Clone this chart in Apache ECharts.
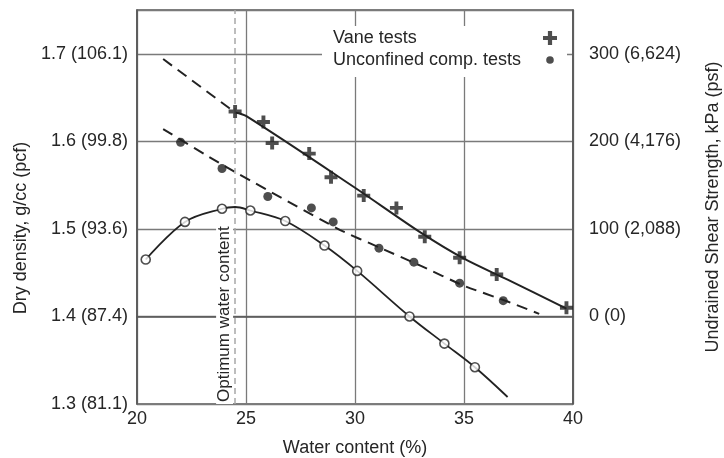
<!DOCTYPE html>
<html><head><meta charset="utf-8">
<script src="https://cdn.jsdelivr.net/npm/echarts@6/dist/echarts.min.js"></script>
<style>html,body{margin:0;padding:0;background:#fff}#c{width:724px;height:458px}</style>
</head><body><div id="c"></div>
<script>
// ---- data ----
const xTickValues = [20, 25, 30, 35, 40];
const leftTickValues = [1.3, 1.4, 1.5, 1.6, 1.7];
const leftTickLabels = ['1.3 (81.1)', '1.4 (87.4)', '1.5 (93.6)', '1.6 (99.8)', '1.7 (106.1)'];
const rightTickValues = [0, 100, 200, 300];
const rightTickLabels = ['0 (0)', '100 (2,088)', '200 (4,176)', '300 (6,624)'];

// Vane tests (kPa)
const vaneWater = [24.5, 25.8, 26.2, 27.9, 28.9, 30.4, 31.9, 33.2, 34.8, 36.5, 39.7];
const vaneKPa   = [234, 222, 198, 186, 159, 138, 124, 91, 67, 48, 10];
// Unconfined compression tests (kPa)
const ucWater = [22.0, 23.9, 26.0, 28.0, 29.0, 31.1, 32.7, 34.8, 36.8];
const ucKPa   = [199, 169, 137, 124, 108, 78, 62, 38, 18];
// Compaction (dry density g/cc)
const compWater   = [20.4, 22.2, 23.9, 25.2, 26.8, 28.6, 30.1, 32.5, 34.1, 35.5];
const compDensity = [1.465, 1.508, 1.523, 1.521, 1.509, 1.481, 1.452, 1.400, 1.369, 1.342];

// fitted curves
const vaneFitDashW = [21.2, 24.5];
const vaneFitDashS = [294, 233];
const vaneFitW = [24.5, 25, 30, 33, 35, 37, 39.7];
const vaneFitS = [233, 229, 147, 96, 66, 42, 9];
const ucFitW = [21.2, 24, 29.3, 31.1, 33, 35, 37, 38.45];
const ucFitS = [214, 172, 99, 79, 58, 35, 17, 3];
const compFitW = [20.4, 22.2, 23.9, 24.5, 25.2, 26.8, 28.6, 30.1, 32.5, 34.1, 35.5, 37.0];
const compFitD = [1.465, 1.508, 1.523, 1.525, 1.521, 1.509, 1.481, 1.452, 1.400, 1.369, 1.342, 1.308];

const optimumWater = 24.5;
const optimumLabel = 'Optimum water content';

const xName = 'Water content (%)';
const leftName = 'Dry density, g/cc (pcf)';
const rightName = 'Undrained Shear Strength, kPa (psf)';
const seriesNames = ['Vane tests', 'Unconfined comp. tests'];

// ---- build ----
const zip = (a, b) => a.map((v, i) => [v, b[i]]);
const FONT = "'Liberation Sans', Arial, sans-serif";
const TXT = '#262626';
const INK = '#222';
const crossPath = 'path://M4.2,0H7.8V4.2H12V7.8H7.8V12H4.2V7.8H0V4.2H4.2Z';
const dotIcon = 'path://M0,0M14,14M7,3.2A3.8,3.8,0,1,1,7,10.8A3.8,3.8,0,1,1,7,3.2Z';

function lookup(values, labels) {
  return function (v) {
    for (let i = 0; i < values.length; i++) if (Math.abs(values[i] - v) < 1e-6) return labels[i];
    return '';
  };
}

const chart = echarts.init(document.getElementById('c'), null, {renderer: 'canvas'});
chart.setOption({
  animation: false,
  backgroundColor: '#fff',
  textStyle: {fontFamily: FONT},
  grid: {left: 137, right: 151, top: 10, bottom: 54, show: true, borderColor: '#555', borderWidth: 1.5,
    containLabel: false, outerBoundsMode: 'none'},
  legend: {
    orient: 'vertical', left: 322, top: 26, align: 'right',
    backgroundColor: '#fff', padding: [3, 10, 8, 11], itemGap: 4,
    itemWidth: 14, itemHeight: 14,
    formatter: '{a|{name}}',
    textStyle: {rich: {a: {width: 205, align: 'left', fontSize: 18, lineHeight: 22, color: TXT, fontFamily: FONT}}},
    data: [
      {name: seriesNames[0], icon: crossPath, itemStyle: {color: INK}},
      {name: seriesNames[1], icon: dotIcon, itemStyle: {color: INK}}
    ]
  },
  xAxis: {
    type: 'value', min: 20, max: 40, interval: 5,
    name: xName, nameLocation: 'middle', nameGap: 35,
    nameTextStyle: {fontSize: 18, color: TXT, fontFamily: FONT},
    axisLine: {show: true, lineStyle: {color: '#555', width: 1.5}},
    axisTick: {show: false},
    axisLabel: {fontSize: 18, color: TXT, margin: 6, fontFamily: FONT, formatter: lookup(xTickValues, xTickValues.map(String))},
    splitLine: {show: true, lineStyle: {color: '#7a7a7a', width: 1.3}}
  },
  yAxis: [{
    type: 'value', min: 1.3, max: 1.75, interval: 0.1, position: 'left',
    name: leftName, nameLocation: 'middle', nameRotate: 90, nameGap: 94,
    nameTextStyle: {fontSize: 18, color: TXT, fontFamily: FONT, padding: [0, 42, 0, 0]},
    axisLine: {show: true, lineStyle: {color: '#555', width: 1.5}},
    axisTick: {show: false},
    axisLabel: {fontSize: 18, color: TXT, margin: 9, fontFamily: FONT, formatter: lookup(leftTickValues, leftTickLabels)},
    splitLine: {show: true, lineStyle: {color: '#7a7a7a', width: 1.3}}
  }, {
    type: 'value', min: -100, max: 350, interval: 100, position: 'right',
    name: rightName, nameLocation: 'middle', nameRotate: 90, nameGap: 131,
    nameTextStyle: {fontSize: 18, color: TXT, fontFamily: FONT},
    axisLine: {show: true, lineStyle: {color: '#555', width: 1.5}},
    axisTick: {show: false},
    axisLabel: {fontSize: 18, color: TXT, margin: 16, fontFamily: FONT, formatter: lookup(rightTickValues, rightTickLabels)},
    splitLine: {show: false}
  }],
  series: [
    {
      name: 'vaneDash', type: 'line', yAxisIndex: 1, data: zip(vaneFitDashW, vaneFitDashS),
      symbol: 'none', lineStyle: {color: INK, width: 2, type: [11, 7]}, silent: true, z: 3
    },
    {
      name: 'vaneFit', type: 'line', yAxisIndex: 1, data: zip(vaneFitW, vaneFitS), smooth: 0.3,
      symbol: 'none', lineStyle: {color: INK, width: 2}, silent: true, z: 3
    },
    {
      name: 'ucFit', type: 'line', yAxisIndex: 1, data: zip(ucFitW, ucFitS), smooth: 0.2,
      symbol: 'none', lineStyle: {color: INK, width: 2, type: [11, 7]}, silent: true, z: 3
    },
    {
      name: 'compFit', type: 'line', yAxisIndex: 0, data: zip(compFitW, compFitD), smooth: 0.35,
      symbol: 'none', lineStyle: {color: INK, width: 1.8}, silent: true, z: 3,
      markLine: {
        silent: true, symbol: 'none',
        lineStyle: {color: '#a8a8a8', width: 1.5, type: [6, 4]},
        label: {show: true, position: 'insideStartTop', formatter: optimumLabel, distance: [0, 2],
          fontSize: 17, color: TXT, fontFamily: FONT, backgroundColor: '#fff', padding: [0, 2, 0, 2]},
        data: [{xAxis: optimumWater}]
      }
    },
    {
      name: 'compaction', type: 'scatter', yAxisIndex: 0, data: zip(compWater, compDensity),
      symbol: 'circle', symbolSize: 9, itemStyle: {color: '#fff', borderColor: INK, borderWidth: 1.6}, z: 5
    },
    {
      name: seriesNames[0], type: 'scatter', yAxisIndex: 1, data: zip(vaneWater, vaneKPa),
      symbol: crossPath, symbolSize: 13, itemStyle: {color: INK}, z: 6
    },
    {
      name: seriesNames[1], type: 'scatter', yAxisIndex: 1, data: zip(ucWater, ucKPa),
      symbol: 'circle', symbolSize: 9, itemStyle: {color: INK}, z: 6
    }
  ]
});
</script></body></html>
